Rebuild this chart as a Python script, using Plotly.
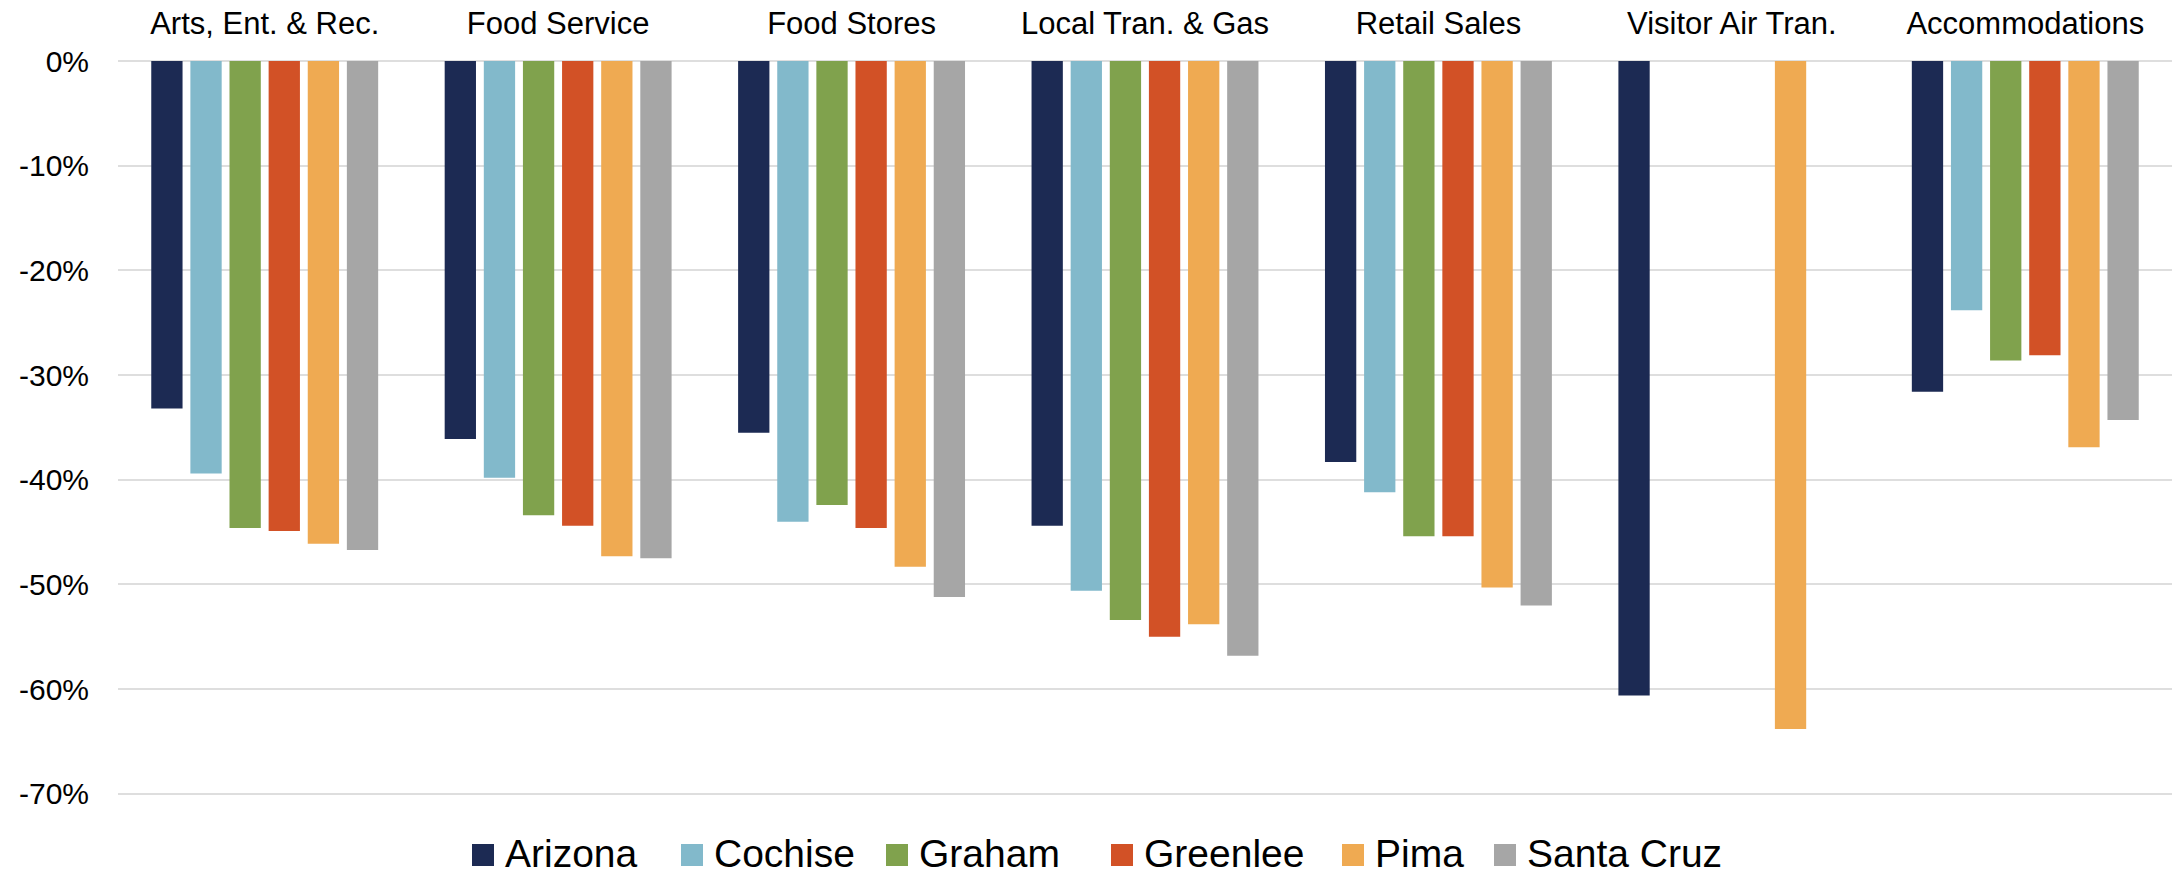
import plotly.graph_objects as go

# Change in spending by sector, Arizona and selected counties (percent)
categories = ["Arts, Ent. & Rec.", "Food Service", "Food Stores", "Local Tran. & Gas",
              "Retail Sales", "Visitor Air Tran.", "Accommodations"]

arizona = [-33.2, -36.1, -35.5, -44.4, -38.3, -60.6, -31.6]
cochise = [-39.4, -39.8, -44.0, -50.6, -41.2, None, -23.8]
graham = [-44.6, -43.4, -42.4, -53.4, -45.4, None, -28.6]
greenlee = [-44.9, -44.4, -44.6, -55.0, -45.4, None, -28.1]
pima = [-46.1, -47.3, -48.3, -53.8, -50.3, -63.8, -36.9]
santa_cruz = [-46.7, -47.5, -51.2, -56.8, -52.0, None, -34.3]

series_names = ["Arizona", "Cochise", "Graham", "Greenlee", "Pima", "Santa Cruz"]
series_values = [arizona, cochise, graham, greenlee, pima, santa_cruz]

tick_values = [0, -10, -20, -30, -40, -50, -60, -70]
tick_labels = ["0%", "-10%", "-20%", "-30%", "-40%", "-50%", "-60%", "-70%"]

colors = ["#1C2A53", "#82B9CB", "#80A24D", "#D25126", "#EFAA52", "#A6A6A6"]

W, H = 2178, 875
# the value axis runs a hair past -70 so its bottom gridline is drawn
Y_MIN, Y_MAX = -70.3, 0
M_L, M_R, M_T, M_B = 118, 6, 61, 78
FONT = "Liberation Sans, Arial, sans-serif"

fig = go.Figure()
for name, vals, col in zip(series_names, series_values, colors):
    fig.add_trace(go.Bar(
        x=categories, y=vals, name=name,
        marker=dict(color=col, line=dict(width=0)),
        showlegend=False,
    ))

# Custom legend with large square swatches below the plot
legend_left_px = [472, 681, 886, 1111, 1342, 1494]
swatch = 22
legend_center_px = 855
text_center_px = 853
plot_w = W - M_L - M_R
plot_h = H - M_T - M_B


def px_to_paper_x(px):
    return (px - M_L) / plot_w


def px_to_paper_y(py):
    return (H - M_B - py) / plot_h


shapes = []
annotations = []
for name, col, left in zip(series_names, colors, legend_left_px):
    shapes.append(dict(
        type="rect", xref="paper", yref="paper",
        x0=px_to_paper_x(left), x1=px_to_paper_x(left + swatch),
        y0=px_to_paper_y(legend_center_px + swatch / 2),
        y1=px_to_paper_y(legend_center_px - swatch / 2),
        fillcolor=col, line=dict(width=0),
    ))
    annotations.append(dict(
        xref="paper", yref="paper",
        x=px_to_paper_x(left + swatch + 9), y=px_to_paper_y(text_center_px),
        xanchor="left", yanchor="middle", showarrow=False,
        text=name, font=dict(family=FONT, size=39, color="#000000"),
    ))

fig.update_layout(
    width=W, height=H,
    margin=dict(l=M_L, r=M_R, t=M_T, b=M_B, pad=0),
    paper_bgcolor="white", plot_bgcolor="white",
    barmode="group", bargap=0.2, bargroupgap=0.2,
    showlegend=False,
    shapes=shapes, annotations=annotations,
    font=dict(family=FONT, color="#000000"),
    xaxis=dict(
        type="category", side="top", showgrid=False, zeroline=False,
        showline=False, ticks="", tickfont=dict(family=FONT, size=31, color="#000000"),
        ticklabelstandoff=20,
    ),
    yaxis=dict(
        range=[Y_MIN, Y_MAX], tickvals=tick_values, ticktext=tick_labels,
        showgrid=True, gridcolor="#DEDEDE", gridwidth=2,
        zeroline=True, zerolinecolor="#DEDEDE", zerolinewidth=2,
        showline=False, ticks="", ticklabelstandoff=28,
        tickfont=dict(family=FONT, size=30, color="#000000"),
    ),
)

fig.write_html("out.html")
